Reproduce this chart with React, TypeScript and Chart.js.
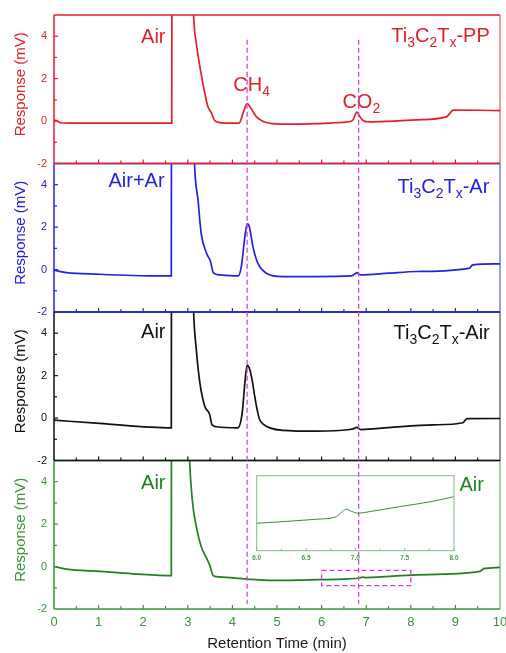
import React, { useEffect, useRef } from 'react';
import { Chart, registerables } from 'chart.js';

Chart.register(...registerables);

const FONT = '"Liberation Sans", Arial, Helvetica, sans-serif';

// ---------- data ----------
const ppTime = [0, 0.06, 0.15, 0.5, 1.0, 1.5, 2.0, 2.5, 2.64, 2.655, 2.9, 3.08, 3.13, 3.19, 3.27, 3.38, 3.45, 3.53, 3.6, 3.72, 3.9, 4.1, 4.16, 4.24, 4.33, 4.39, 4.46, 4.54, 4.65, 4.76, 4.9, 5.06, 5.5, 5.88, 6.3, 6.55, 6.7, 6.79, 6.86, 6.93, 7.08, 7.5, 8.13, 8.8, 8.87, 8.95, 9.5, 10];
const ppResp = [0.03, 0.02, -0.08, -0.1, -0.1, -0.1, -0.1, -0.1, -0.1, 30, 40, 9, 5.0, 3.68, 2.58, 1.32, 0.69, 0.38, 0.03, -0.07, -0.1, -0.1, -0.08, 0.38, 0.82, 0.69, 0.45, 0.2, 0.03, -0.07, -0.12, -0.14, -0.14, -0.12, -0.08, -0.05, 0.05, 0.42, 0.2, 0.03, -0.04, -0.01, 0.06, 0.2, 0.35, 0.52, 0.51, 0.49];

const arTime = [0, 0.05, 0.28, 1.02, 1.77, 2.3, 2.63, 2.645, 2.9, 3.1, 3.15, 3.23, 3.3, 3.42, 3.51, 3.57, 3.72, 4.13, 4.2, 4.28, 4.33, 4.38, 4.46, 4.57, 4.76, 5.13, 5.88, 6.67, 6.75, 6.79, 6.84, 6.89, 7.5, 8.13, 9.32, 9.36, 9.4, 10];
const arResp = [-0.02, -0.05, -0.14, -0.22, -0.28, -0.3, -0.3, 30, 40, 9, 5.0, 3.27, 1.71, 0.77, 0.38, -0.14, -0.25, -0.3, 0.14, 1.55, 2.15, 2.02, 1.08, 0.3, -0.17, -0.33, -0.33, -0.3, -0.2, -0.14, -0.22, -0.25, -0.17, -0.09, 0.07, 0.18, 0.22, 0.27];

const airTime = [0, 1.02, 2.63, 2.645, 2.9, 3.08, 3.13, 3.19, 3.27, 3.38, 3.49, 3.54, 3.64, 4.12, 4.22, 4.28, 4.33, 4.39, 4.45, 4.5, 4.55, 4.61, 4.7, 4.84, 5.13, 5.88, 6.63, 6.72, 6.79, 6.84, 6.89, 7.5, 8.5, 9.17, 9.22, 9.26, 10];
const airResp = [-0.1, -0.25, -0.46, 30, 40, 9, 5.0, 3.24, 1.67, 0.56, 0.17, -0.3, -0.41, -0.46, 0.25, 1.67, 2.48, 2.29, 1.7, 1.03, 0.45, -0.07, -0.3, -0.46, -0.58, -0.62, -0.54, -0.5, -0.44, -0.5, -0.54, -0.45, -0.32, -0.22, -0.1, -0.03, -0.02];

const blankTime = [0, 0.05, 0.28, 1.02, 1.77, 2.63, 2.645, 2.85, 2.98, 3.04, 3.1, 3.19, 3.3, 3.42, 3.49, 3.57, 3.72, 4.33, 4.91, 5.88, 6.6, 6.85, 6.92, 7.0, 8.13, 9.55, 9.6, 9.63, 10];
const blankResp = [0.0, -0.02, -0.12, -0.23, -0.34, -0.43, 30, 40, 9, 5.0, 3.14, 1.89, 0.95, 0.4, 0.08, -0.43, -0.49, -0.59, -0.65, -0.62, -0.58, -0.54, -0.5, -0.52, -0.39, -0.23, -0.15, -0.1, -0.04];

const insetTime = [6.0, 6.27, 6.61, 6.79, 6.83, 6.87, 6.91, 6.96, 7.03, 7.14, 7.45, 7.76, 8.0];
const insetResp = [-0.554, -0.545, -0.532, -0.522, -0.51, -0.49, -0.479, -0.49, -0.5, -0.492, -0.465, -0.439, -0.412];

const markerTimes = [4.33, 6.83]; // CH4, CO2 retention times
const zoomBoxTime = [6, 8];
const zoomBoxResp = [-0.9, -0.18];

const yTickLabels = [-2, 0, 2, 4];

// ---------- styles ----------
const RED = '#e61e28';
const BLUE = '#2222e4';
const BLACK = '#111111';
const GREEN = '#1f821f';
const GREEN_AXIS = '#3a963a';
const MAGENTA = '#dc3cdc';

type Seg = [string, number];
type Txt = { segs: Seg[]; x: number; y: number; align: CanvasTextAlign };

const titleSegs = (suffix: string): Seg[] => [['Ti', 0], ['3', 1], ['C', 0], ['2', 1], ['T', 0], ['x', 1], [suffix, 0]];

const PANELS = [
  {
    id: 'yPP', color: RED, axis: RED, time: ppTime, resp: ppResp,
    texts: [
      { segs: [['Air', 0]], x: 2.5, y: 3.69, align: 'right' },
      { segs: titleSegs('-PP'), x: 9.77, y: 3.75, align: 'right' },
      { segs: [['CH', 0], ['4', 1]], x: 4.43, y: 1.44, align: 'center' },
      { segs: [['CO', 0], ['2', 1]], x: 6.89, y: 0.61, align: 'center' },
    ] as Txt[],
  },
  {
    id: 'yAr', color: BLUE, axis: BLUE, time: arTime, resp: arResp,
    texts: [
      { segs: [['Air+Ar', 0]], x: 2.48, y: 3.87, align: 'right' },
      { segs: titleSegs('-Ar'), x: 9.76, y: 3.59, align: 'right' },
    ] as Txt[],
  },
  {
    id: 'yAir', color: BLACK, axis: BLACK, time: airTime, resp: airResp,
    texts: [
      { segs: [['Air', 0]], x: 2.5, y: 3.79, align: 'right' },
      { segs: titleSegs('-Air'), x: 9.77, y: 3.74, align: 'right' },
    ] as Txt[],
  },
  {
    id: 'yBlank', color: GREEN, axis: GREEN_AXIS, time: blankTime, resp: blankResp,
    texts: [
      { segs: [['Air', 0]], x: 2.5, y: 3.66, align: 'right' },
      { segs: [['Air', 0]], x: 9.64, y: 3.58, align: 'right' },
    ] as Txt[],
  },
];

function drawRich(ctx: CanvasRenderingContext2D, segs: Seg[], x: number, y: number, align: CanvasTextAlign, color: string) {
  const widths = segs.map((s) => {
    ctx.font = `${s[1] ? 14 : 20}px ${FONT}`;
    return ctx.measureText(s[0]).width;
  });
  const total = widths.reduce((a, b) => a + b, 0);
  let cx = align === 'right' ? x - total : align === 'center' ? x - total / 2 : x;
  ctx.fillStyle = color;
  ctx.textAlign = 'left';
  ctx.textBaseline = 'alphabetic';
  segs.forEach((s, i) => {
    ctx.font = `${s[1] ? 14 : 20}px ${FONT}`;
    ctx.fillText(s[0], cx, y + (s[1] ? 5 : 0));
    cx += widths[i];
  });
}

function seg(ctx: CanvasRenderingContext2D, x1: number, y1: number, x2: number, y2: number) {
  ctx.beginPath();
  ctx.moveTo(x1, y1);
  ctx.lineTo(x2, y2);
  ctx.stroke();
}

const panelPlugin = {
  id: 'panelDeco',
  beforeDatasetDraw(chart: any, args: any) {
    const ys = args.meta.yScale;
    const xs = chart.scales.x;
    const ctx = chart.ctx;
    ctx.save();
    ctx.beginPath();
    ctx.rect(xs.left, ys.top, xs.right - xs.left, ys.bottom - ys.top);
    ctx.clip();
  },
  afterDatasetDraw(chart: any) {
    chart.ctx.restore();
  },
  afterDatasetsDraw(chart: any) {
    const ctx: CanvasRenderingContext2D = chart.ctx;
    const xs = chart.scales.x;
    const ordered = [...PANELS].reverse();
    ordered.forEach((p) => {
      const ys = chart.scales[p.id];
      ctx.save();
      ctx.strokeStyle = p.axis;
      ctx.globalAlpha = 0.75;
      ctx.lineWidth = 1.2;
      seg(ctx, xs.right, ys.top, xs.right, ys.bottom);
      ctx.globalAlpha = 1;
      ctx.lineWidth = 1.5;
      seg(ctx, xs.left, ys.top, xs.right, ys.top);
      seg(ctx, xs.left, ys.top, xs.left, ys.bottom);
      seg(ctx, xs.left, ys.bottom, xs.right, ys.bottom);
      ctx.lineWidth = 1.2;
      ys.ticks.forEach((t: any) => {
        if (t.value <= ys.min || t.value >= ys.max) return;
        const py = ys.getPixelForValue(t.value);
        const len = yTickLabels.includes(t.value) ? 4 : 3;
        seg(ctx, xs.left, py, xs.left + len, py);
      });
      xs.ticks.forEach((t: any) => {
        if (t.value > xs.min && t.value < xs.max) {
          const px = xs.getPixelForValue(t.value);
          seg(ctx, px, ys.bottom, px, ys.bottom - 4);
        }
        const m = t.value + 0.5;
        if (m < xs.max) {
          const px = xs.getPixelForValue(m);
          seg(ctx, px, ys.bottom, px, ys.bottom - 3);
        }
      });
      ctx.restore();
    });
    PANELS.forEach((p) => {
      const ys = chart.scales[p.id];
      p.texts.forEach((t) => {
        drawRich(ctx, t.segs, xs.getPixelForValue(t.x), ys.getPixelForValue(t.y), t.align, p.color);
      });
      ctx.save();
      ctx.fillStyle = p.axis;
      ctx.font = `15px ${FONT}`;
      ctx.textAlign = 'center';
      ctx.textBaseline = 'middle';
      ctx.translate(21, (ys.top + ys.bottom) / 2 - 5);
      ctx.rotate(-Math.PI / 2);
      ctx.fillText('Response (mV)', 0, 0);
      ctx.restore();
    });
    const yTop = chart.scales[PANELS[0].id];
    const yBot = chart.scales[PANELS[PANELS.length - 1].id];
    ctx.save();
    ctx.strokeStyle = MAGENTA;
    ctx.lineWidth = 1.3;
    ctx.setLineDash([5, 3]);
    markerTimes.forEach((t) => {
      const px = xs.getPixelForValue(t);
      seg(ctx, px, yTop.getPixelForValue(3.83), px, yBot.getPixelForValue(-1.75));
    });
    const x1 = xs.getPixelForValue(zoomBoxTime[0]);
    const x2 = xs.getPixelForValue(zoomBoxTime[1]);
    const y1 = yBot.getPixelForValue(zoomBoxResp[1]);
    const y2 = yBot.getPixelForValue(zoomBoxResp[0]);
    ctx.beginPath();
    ctx.rect(x1, y1, x2 - x1, y2 - y1);
    ctx.stroke();
    ctx.restore();
  },
};

const insetPlugin = {
  id: 'insetDeco',
  afterDatasetsDraw(chart: any) {
    const ctx: CanvasRenderingContext2D = chart.ctx;
    const { left, right, top, bottom } = chart.chartArea;
    const xs = chart.scales.x;
    ctx.save();
    ctx.strokeStyle = '#86b886';
    ctx.lineWidth = 1;
    ctx.strokeRect(left, top, right - left, bottom - top);
    xs.ticks.forEach((t: any) => {
      const px = xs.getPixelForValue(t.value);
      seg(ctx, px, bottom, px, bottom - 2.5);
      const m = t.value + 0.25;
      if (m < xs.max) {
        const pm = xs.getPixelForValue(m);
        seg(ctx, pm, bottom, pm, bottom - 2);
      }
    });
    ctx.restore();
  },
};

export default function App() {
  const mainRef = useRef<HTMLCanvasElement>(null);
  const insetRef = useRef<HTMLCanvasElement>(null);

  useEffect(() => {
    if (!mainRef.current || !insetRef.current) return;

    const yScales: any = {};
    // bottom panel first: later-defined stacked axes are placed on top
    [...PANELS].reverse().forEach((p) => {
      yScales[p.id] = {
        type: 'linear',
        position: 'left',
        stack: 'panels',
        stackWeight: 1,
        min: -2,
        max: 5,
        ticks: {
          stepSize: 1,
          autoSkip: false,
          color: p.axis,
          font: { family: FONT, size: 11 },
          padding: 7,
          callback: (v: any) => (yTickLabels.includes(Number(v)) ? String(v) : ''),
        },
        grid: { display: false, drawTicks: false },
        border: { display: false },
        afterFit: (s: any) => {
          s.width = 54;
          s.paddingTop = 0;
          s.paddingBottom = 0;
        },
      };
    });

    const main = new Chart(mainRef.current, {
      type: 'line',
      data: {
        datasets: PANELS.map((p) => ({
          label: p.id,
          data: p.time.map((t, i) => ({ x: t, y: p.resp[i] })),
          yAxisID: p.id,
          xAxisID: 'x',
          borderColor: p.color,
          borderWidth: 1.7,
          pointRadius: 0,
          cubicInterpolationMode: 'monotone',
          fill: false,
        })),
      },
      options: {
        responsive: false,
        animation: false,
        layout: { padding: { top: 15, left: 0, right: 0, bottom: 0 } },
        plugins: { legend: { display: false }, tooltip: { enabled: false }, title: { display: false } },
        scales: {
          x: {
            type: 'linear',
            position: 'bottom',
            min: 0,
            max: 10,
            ticks: {
              stepSize: 1,
              autoSkip: false,
              maxRotation: 0,
              color: GREEN_AXIS,
              font: { family: FONT, size: 13 },
              padding: 6,
            },
            grid: { display: false, drawTicks: false },
            border: { display: false },
            title: {
              display: true,
              text: 'Retention Time (min)',
              color: '#1a1a1a',
              font: { family: FONT, size: 15 },
              padding: { top: 0, bottom: 0 },
            },
            afterFit: (s: any) => {
              s.height = 44;
              s.paddingLeft = 0;
              s.paddingRight = 6;
            },
          },
          ...yScales,
        },
      } as any,
      plugins: [panelPlugin],
    });

    const inset = new Chart(insetRef.current, {
      type: 'line',
      data: {
        datasets: [
          {
            data: insetTime.map((t, i) => ({ x: t, y: insetResp[i] })),
            borderColor: '#3d8a3d',
            borderWidth: 1,
            pointRadius: 0,
            cubicInterpolationMode: 'monotone',
            fill: false,
          },
        ],
      },
      options: {
        responsive: false,
        animation: false,
        layout: { padding: { left: 6.7, top: 7.7, right: 11, bottom: 0 } },
        plugins: { legend: { display: false }, tooltip: { enabled: false } },
        scales: {
          x: {
            type: 'linear',
            min: 6,
            max: 8,
            ticks: {
              stepSize: 0.5,
              autoSkip: false,
              maxRotation: 0,
              color: '#4e9a4e',
              font: { family: FONT, size: 6.5, weight: 'bold' },
              padding: 4,
              callback: (v: any) => Number(v).toFixed(1),
            },
            grid: { display: false, drawTicks: false },
            border: { display: false },
            afterFit: (s: any) => {
              s.height = 19.3;
              s.paddingLeft = 0;
              s.paddingRight = 0;
            },
          },
          y: { type: 'linear', min: -0.7, max: -0.3, display: false },
        },
      } as any,
      plugins: [insetPlugin],
    });

    return () => {
      main.destroy();
      inset.destroy();
    };
  }, []);

  return (
    <div style={{ position: 'absolute', left: 0, top: 0, width: 506, height: 653, background: '#fff' }}>
      <canvas ref={mainRef} width={506} height={653} style={{ display: 'block', position: 'absolute', left: 0, top: 0 }} />
      <canvas ref={insetRef} width={215} height={102} style={{ display: 'block', position: 'absolute', left: 250, top: 468 }} />
    </div>
  );
}
